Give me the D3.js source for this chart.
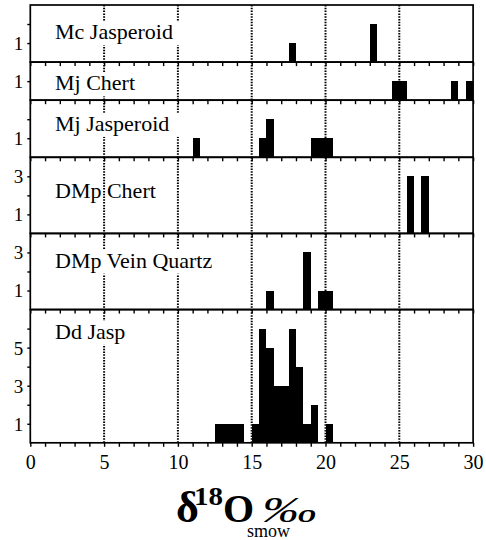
<!DOCTYPE html>
<html>
<head>
<meta charset="utf-8">
<script src="https://cdn.jsdelivr.net/npm/d3@7"></script>
<style>
  html, body { margin: 0; padding: 0; background: #fff; }
  svg { display: block; }
  text { font-family: "Liberation Serif", "Times New Roman", serif; fill: #000; }
</style>
</head>
<body>
<svg id="chart" width="486" height="540"></svg>
<script>
// ---- data ----
const panelNames = ["Mc Jasperoid", "Mj Chert", "Mj Jasperoid", "DMp Chert", "DMp Vein Quartz", "Dd Jasp"];
const panelMax = [3, 2, 3, 4, 4, 7];
const binWidth = 0.5;
// [bin start (δ18O ‰), count]
const mcJasperoid = [[17.5, 1], [23, 2]];
const mjChert = [[24.5, 1], [25, 1], [28.5, 1], [29.5, 1]];
const mjJasperoid = [[11, 1], [15.5, 1], [16, 2], [19, 1], [19.5, 1], [20, 1]];
const dmpChert = [[25.5, 3], [26.5, 3]];
const dmpVeinQuartz = [[16, 1], [18.5, 3], [19.5, 1], [20, 1]];
const ddJasp = [[12.5, 1], [13, 1], [13.5, 1], [14, 1], [15, 1], [15.5, 6], [16, 5], [16.5, 3], [17, 3],
                [17.5, 6], [18, 4], [18.5, 1], [19, 2], [20, 1]];
const panelData = [mcJasperoid, mjChert, mjJasperoid, dmpChert, dmpVeinQuartz, ddJasp];
const xTickLabels = [0, 5, 10, 15, 20, 25, 30];
const dottedAt = [5, 10, 15, 20, 25];
const yLabelValues = [1, 3, 5];

// ---- layout ----
const plotLeft = 30.3, plotRight = 473.1, plotTop = 5, plotBottom = 442.8;
const labelBaseline = [34.3, 28.3, 30.7, 40.7, 34.3, 29.3]; // offset from panel top
const labelBoxRight = [186, 146, 186, null, 186, 136];

const svg = d3.select("#chart");
svg.append("rect").attr("width", 486).attr("height", 540).attr("fill", "#fff");

const x = d3.scaleLinear().domain([0, 30]).range([plotLeft, plotRight]);
const totalUnits = d3.sum(panelMax);
const unit = (plotBottom - plotTop) / totalUnits;

let yTop = plotTop;
panelData.forEach((data, i) => {
  const h = panelMax[i] * unit;
  const y0 = yTop, y1 = yTop + h;
  yTop = y1;
  const y = d3.scaleLinear().domain([0, panelMax[i]]).range([y1, y0]);
  const g = svg.append("g");

  // dotted reference lines
  g.selectAll("line.dot").data(dottedAt).join("line")
    .attr("x1", d => x(d)).attr("x2", d => x(d))
    .attr("y1", y0).attr("y2", y1)
    .attr("stroke", "#000").attr("stroke-width", 2)
    .attr("stroke-dasharray", "1.5,1.3");

  // bars
  g.selectAll("rect.bar").data(data).join("rect")
    .attr("x", d => x(d[0]))
    .attr("width", x(binWidth) - x(0))
    .attr("y", d => y(d[1]))
    .attr("height", d => y(0) - y(d[1]))
    .attr("fill", "#000")
    .attr("shape-rendering", "crispEdges");

  // label with white box
  const bl = y0 + labelBaseline[i];
  if (labelBoxRight[i] !== null) {
    g.append("rect").attr("x", 50).attr("y", bl - 18)
      .attr("width", labelBoxRight[i] - 50).attr("height", 24)
      .attr("fill", "#fff");
  }
  g.append("text").attr("x", 55).attr("y", bl)
    .attr("font-size", 22).text(panelNames[i]);

  // x axis ticks (outward, bottom of each panel)
  const xAxis = d3.axisBottom(x).tickValues(d3.range(0, 31, 1)).tickSize(4).tickFormat("");
  const ax = g.append("g").attr("transform", `translate(0,${y1})`).call(xAxis);
  ax.select(".domain").remove();
  ax.selectAll(".tick line").attr("stroke", "#000").attr("stroke-width", 1.4);

  // y axis ticks
  const yAxis = d3.axisLeft(y).tickValues(d3.range(1, panelMax[i])).tickSize(3)
    .tickFormat(d => yLabelValues.includes(d) ? d : "");
  const ay = g.append("g").attr("transform", `translate(${plotLeft},0)`).call(yAxis);
  ay.select(".domain").remove();
  ay.selectAll(".tick line").attr("stroke", "#000").attr("stroke-width", 1.4);
  ay.selectAll(".tick text").attr("font-size", 19).attr("x", -7)
    .attr("font-family", '"Liberation Serif", serif').attr("dy", "0.34em");

  // frame
  g.append("rect").attr("x", plotLeft).attr("y", y0).attr("width", plotRight - plotLeft).attr("height", h)
    .attr("fill", "none").attr("stroke", "#000").attr("stroke-width", 1.7);
});

// x tick labels
const xl = svg.append("g").attr("transform", `translate(0,${plotBottom})`)
  .call(d3.axisBottom(x).tickValues(xTickLabels).tickSize(0).tickPadding(12));
xl.select(".domain").remove();
xl.selectAll(".tick text").attr("font-size", 20).attr("font-family", '"Liberation Serif", serif')
  .attr("dy", "0.71em").attr("y", 12);

// axis title: δ18O ‰ (smow) as one text element
const t = svg.append("text");
t.append("tspan").attr("x", 176).attr("y", 522).attr("font-size", 44).attr("font-weight", "bold").text("δ");
t.append("tspan").attr("x", 194).attr("y", 505).attr("font-size", 25).attr("font-weight", "bold")
  .attr("textLength", 29).attr("lengthAdjust", "spacingAndGlyphs").text("18");
t.append("tspan").attr("x", 223).attr("y", 521.5).attr("font-size", 40).attr("font-weight", "bold").text("O");
t.append("tspan").attr("x", 262).attr("y", 521.5).attr("font-size", 36).attr("font-style", "italic")
  .attr("textLength", 55).attr("lengthAdjust", "spacingAndGlyphs").text("‰");
t.append("tspan").attr("x", 247).attr("y", 537).attr("font-size", 18).text("smow");
</script>
</body>
</html>
